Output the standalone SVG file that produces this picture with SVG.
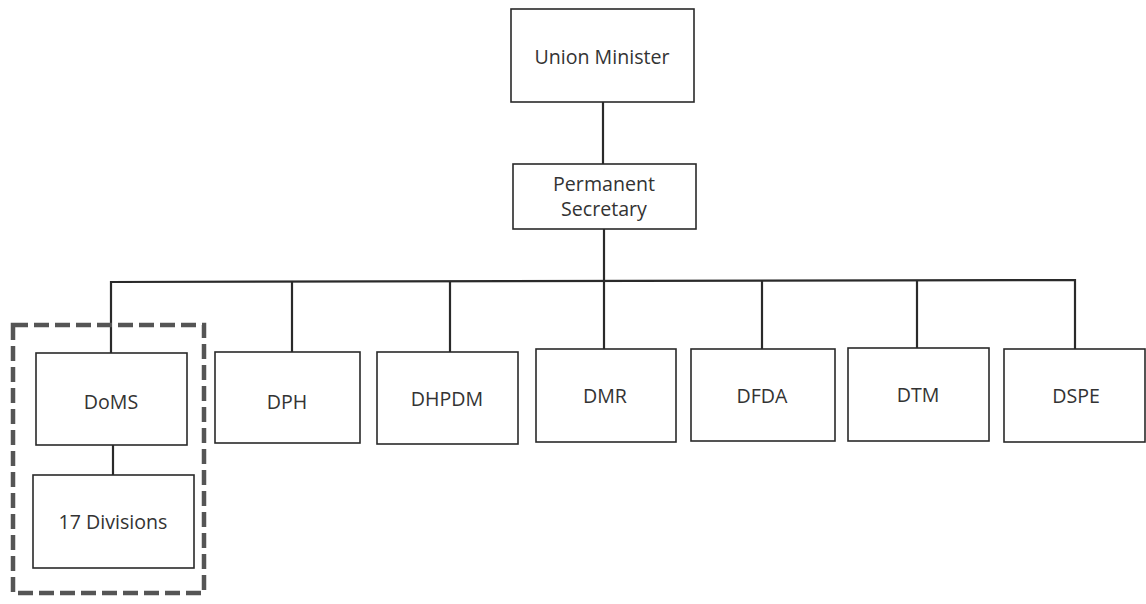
<svg xmlns="http://www.w3.org/2000/svg" width="1146" height="604" viewBox="0 0 1146 604">
  <style>
    .box { fill: #ffffff; stroke: #2a2a2a; stroke-width: 1.6; }
    .lbl { font-family: "Open Sans", "Liberation Sans", sans-serif; font-size: 19.6px; fill: #333333; text-anchor: middle; }
    .wire { fill: none; stroke: #2a2a2a; stroke-width: 2.2; }
    .group { fill: none; stroke: #555555; stroke-width: 4.5; stroke-dasharray: 15 6; }
  </style>
  <rect width="1146" height="604" fill="#ffffff"/>

  <!-- connectors -->
  <g id="connectors">
    <line class="wire" x1="603" y1="102" x2="603" y2="164"/>
    <line class="wire" x1="604" y1="229" x2="604" y2="349"/>
    <polyline class="wire" points="111,353 111,282 1075,280 1075,349"/>
    <line class="wire" x1="292" y1="282" x2="292" y2="352"/>
    <line class="wire" x1="450" y1="282" x2="450" y2="352"/>
    <line class="wire" x1="762" y1="281" x2="762" y2="349"/>
    <line class="wire" x1="917" y1="280" x2="917" y2="348"/>
    <line class="wire" x1="113" y1="445" x2="113" y2="475"/>
  </g>

  <!-- dashed grouping around DoMS and its divisions -->
  <rect id="doms-group" class="group" x="13" y="325" width="191" height="268"/>

  <g id="union-minister">
    <rect class="box" x="511" y="9" width="183" height="93"/>
    <text class="lbl" x="602" y="64">Union Minister</text>
  </g>

  <g id="permanent-secretary">
    <rect class="box" x="513" y="164" width="183" height="65"/>
    <text class="lbl" x="604" y="191">Permanent</text>
    <text class="lbl" x="604" y="216">Secretary</text>
  </g>

  <g id="doms">
    <rect class="box" x="36" y="353" width="151" height="92"/>
    <text class="lbl" x="111" y="409">DoMS</text>
  </g>

  <g id="divisions">
    <rect class="box" x="33" y="475" width="161" height="93"/>
    <text class="lbl" x="113" y="529">17 Divisions</text>
  </g>

  <g id="dph">
    <rect class="box" x="215" y="352" width="145" height="91"/>
    <text class="lbl" x="287" y="409">DPH</text>
  </g>

  <g id="dhpdm">
    <rect class="box" x="377" y="352" width="141" height="92"/>
    <text class="lbl" x="447" y="406">DHPDM</text>
  </g>

  <g id="dmr">
    <rect class="box" x="536" y="349" width="140" height="93"/>
    <text class="lbl" x="605" y="403">DMR</text>
  </g>

  <g id="dfda">
    <rect class="box" x="691" y="349" width="144" height="92"/>
    <text class="lbl" x="762" y="403">DFDA</text>
  </g>

  <g id="dtm">
    <rect class="box" x="848" y="348" width="141" height="93"/>
    <text class="lbl" x="918" y="402">DTM</text>
  </g>

  <g id="dspe">
    <rect class="box" x="1004" y="349" width="141" height="93"/>
    <text class="lbl" x="1076" y="403">DSPE</text>
  </g>
</svg>
